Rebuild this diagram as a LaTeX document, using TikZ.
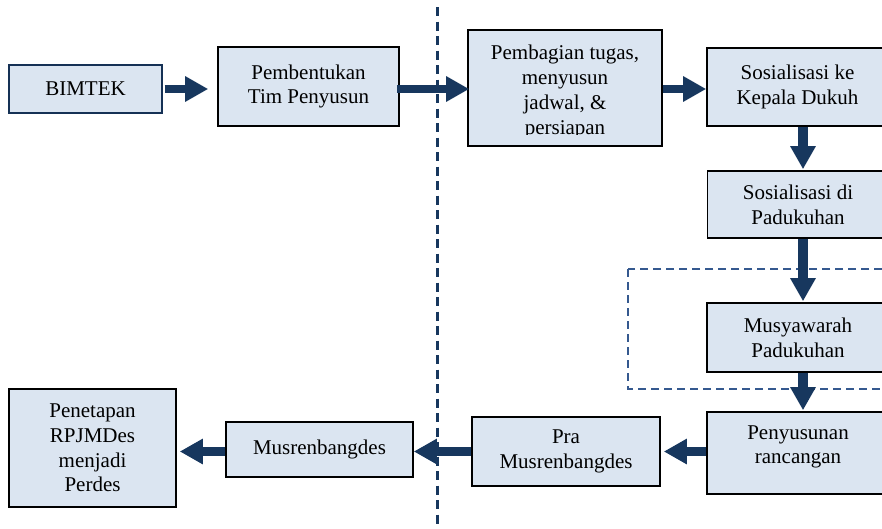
\documentclass[tikz,border=0pt]{standalone}
\usepackage{fontspec}
\setmainfont{Liberation Serif}
\usetikzlibrary{arrows.meta}
\definecolor{boxfill}{HTML}{DBE5F1}
\definecolor{navy}{HTML}{17375E}
\definecolor{dashblue}{HTML}{35598F}
\tikzset{
  box/.style={draw=black, line width=1.6pt, fill=boxfill, inner sep=0pt, align=center,
    font=\fontsize{21pt}{24.8pt}\selectfont},
  arr/.style={draw=navy, line width=8.5pt, -{Triangle[length=23pt,width=24pt]}},
  varr/.style={draw=navy, line width=10pt, -{Triangle[length=23pt,width=24pt]}},
  sep/.style={draw=navy, line width=2.2pt, dash pattern=on 9pt off 5.5pt},
  grp/.style={draw=dashblue, line width=1.5pt, dash pattern=on 8pt off 5pt},
}
\begin{document}
\begin{tikzpicture}[x=1pt,y=-1pt]
\useasboundingbox (0,0) rectangle (882,528);
\clip (0,0) rectangle (882,528);
\fill[white] (0,0) rectangle (882,528);
% group frame
\draw[grp] (628,269) rectangle (895,389);
% boxes
\node[box, draw=navy!90!black, line width=1.4pt, minimum width=153pt, minimum height=48pt] (bimtek) at (85.5,89) {BIMTEK};
\node[box, minimum width=181pt, minimum height=79pt] (pemb) at (308.5,86.5) {Pembentukan\\[-0.3pt]Tim Penyusun};
\node[box, minimum width=194pt, minimum height=116pt] (bagi) at (565,88) {};
\begin{scope}
\clip (469,31) rectangle (661,134);
\node[align=center, inner sep=0pt, font=\fontsize{21pt}{25.2pt}\selectfont] (bagitxt) at (565,92) {Pembagian tugas,\\menyusun\\jadwal, \&\\persiapan};
\end{scope}
\node[box, minimum width=181pt, minimum height=78pt] (sos1) at (797.5,87) {Sosialisasi ke\\Kepala Dukuh};
\node[box, minimum width=181pt, minimum height=67pt] (sos2) at (798,204.5) {Sosialisasi di\\Padukuhan};
\node[box, minimum width=182pt, minimum height=69pt] (musy) at (798,337.5) {Musyawarah\\Padukuhan};
\node[box, minimum width=182pt, minimum height=82pt] (peny) at (798,453) {Penyusunan\\rancangan\\[-8pt]\mbox{}};
\node[box, minimum width=188pt, minimum height=69pt] (pra) at (566,451.5) {Pra\\Musrenbangdes};
\node[box, minimum width=187pt, minimum height=55pt] (musr) at (319.5,449.5) {Musrenbangdes};
\node[box, minimum width=167pt, minimum height=118pt] (pene) at (92.5,448) {Penetapan\\RPJMDes\\menjadi\\Perdes};
% arrow guides
\coordinate (row) at (0,89);
\coordinate (col) at (803,0);
\coordinate (low) at (0,451.5);
% arrows
\draw[arr, shorten <=2pt, shorten >=9pt] (bimtek.east |- row) -- (pemb.west |- row);
\draw[arr, shorten <=-3pt, shorten >=-2pt] (pemb.east |- row) -- (bagi.west |- row);
\draw[arr, shorten >=0pt] (bagi.east |- row) -- (sos1.west |- row);
\draw[varr, shorten >=1pt] (sos1.south -| col) -- (sos2.north -| col);
\draw[varr, shorten >=1pt] (sos2.south -| col) -- (musy.north -| col);
\draw[varr, shorten >=1pt] (musy.south -| col) -- (peny.north -| col);
\draw[arr, shorten >=3pt] (peny.west |- low) -- (pra.east |- low);
\draw[arr, shorten >=0pt] (pra.west |- low) -- (musr.east |- low);
\draw[arr, shorten >=3pt] (musr.west |- low) -- (pene.east |- low);
% separator
\coordinate (septop) at (437.5,7);
\coordinate (sepbot) at (437.5,530);
\draw[sep] (septop) -- (sepbot);
\end{tikzpicture}
\end{document}
